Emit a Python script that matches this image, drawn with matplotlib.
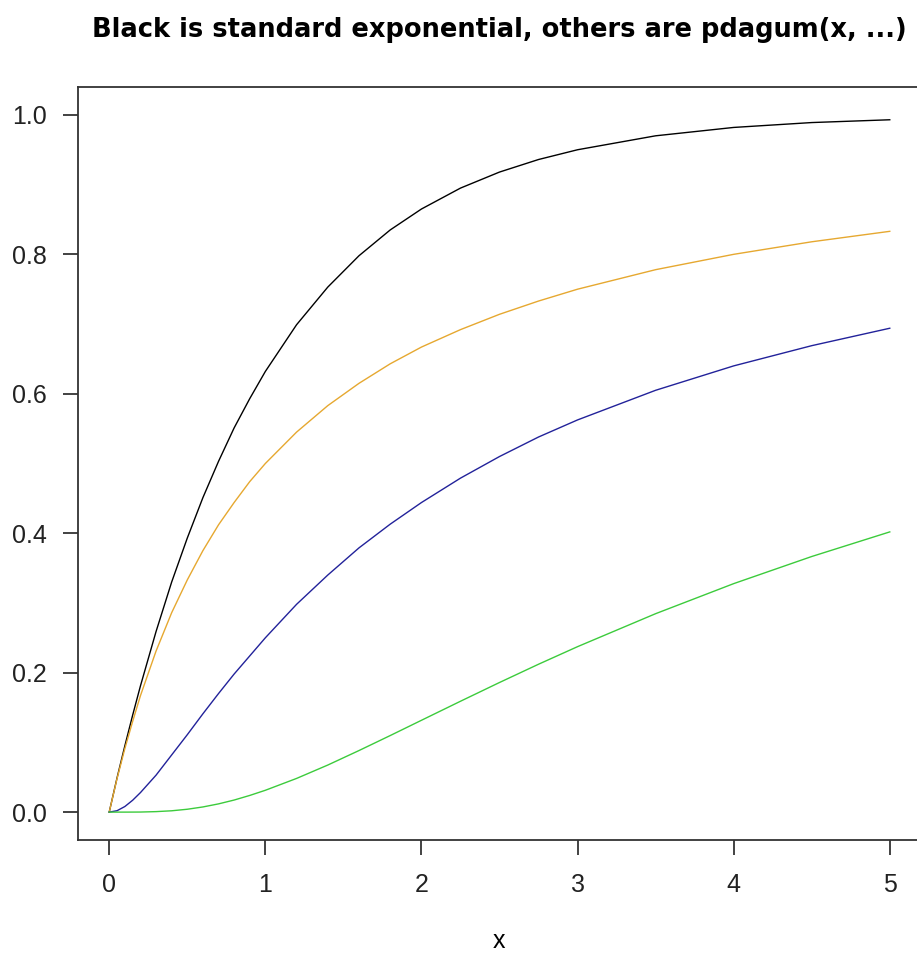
import matplotlib
matplotlib.use('Agg')
import matplotlib.pyplot as plt

plt.rcParams['font.family'] = ['Liberation Sans', 'DejaVu Sans']

# values
x = [0, 0.05, 0.1, 0.15, 0.2, 0.3, 0.4, 0.5, 0.6, 0.7, 0.8, 0.9, 1.0,
     1.2, 1.4, 1.6, 1.8, 2.0, 2.25, 2.5, 2.75, 3.0, 3.5, 4.0, 4.5, 5.0]

expo = [0, 0.049, 0.095, 0.139, 0.181, 0.259, 0.330, 0.393, 0.451, 0.503,
        0.551, 0.593, 0.632, 0.699, 0.753, 0.798, 0.835, 0.865, 0.895,
        0.918, 0.936, 0.950, 0.970, 0.982, 0.989, 0.993]

dagum_orange = [0, 0.048, 0.091, 0.130, 0.167, 0.231, 0.286, 0.333, 0.375,
                0.412, 0.444, 0.474, 0.500, 0.545, 0.583, 0.615, 0.643,
                0.667, 0.692, 0.714, 0.733, 0.750, 0.778, 0.800, 0.818, 0.833]

dagum_blue = [0, 0.002, 0.008, 0.017, 0.028, 0.053, 0.082, 0.111, 0.141,
              0.170, 0.198, 0.224, 0.250, 0.298, 0.340, 0.379, 0.413,
              0.444, 0.479, 0.510, 0.538, 0.5625, 0.605, 0.640, 0.669, 0.694]

dagum_green = [0, 0.0, 0.0, 0.00004, 0.0001, 0.0007, 0.0019, 0.0041, 0.0074,
               0.0118, 0.0173, 0.0239, 0.0313, 0.0483, 0.0675, 0.0883, 0.1098,
               0.1317, 0.1590, 0.1859, 0.2121, 0.2373, 0.2846, 0.3277, 0.3666,
               0.4019]

W, H = 917, 958
fig = plt.figure(figsize=(W / 100, H / 100), dpi=100)
ax = fig.add_axes([78 / W, (H - 840) / H, (921 - 78) / W, (840 - 87) / H])

ax.plot(x, expo, color='black', lw=1.0)
ax.plot(x, dagum_orange, color='#E6A830', lw=1.0)
ax.plot(x, dagum_blue, color='#22229A', lw=1.0)
ax.plot(x, dagum_green, color='#3CCB3C', lw=1.0)

ax.set_xlim(-0.2, 5.2)
ax.set_ylim(-0.04, 1.04)
ax.set_xticks([0, 1, 2, 3, 4, 5])
ax.set_yticks([0.0, 0.2, 0.4, 0.6, 0.8, 1.0])
ax.set_yticklabels(['0.0', '0.2', '0.4', '0.6', '0.8', '1.0'])
ax.tick_params(direction='out', length=11, width=1.2, labelsize=18,
               colors='#222222')
ax.tick_params(axis='x', pad=13)
ax.tick_params(axis='y', pad=11.5)
for s in ax.spines.values():
    s.set_linewidth(1.3)
    s.set_color('#333333')
# the box's right edge falls just outside the canvas in the reference
ax.spines['right'].set_visible(False)

fig.text(499 / W, 1 - 948 / H, 'x', ha='center', va='baseline', fontsize=18)
fig.text(499 / W, 1 - 37 / H, 'Black is standard exponential, others are pdagum(x, ...)',
         ha='center', va='baseline', fontsize=18.5, fontweight='bold',
         family='DejaVu Sans')

fig.savefig('out.png', dpi=100)
